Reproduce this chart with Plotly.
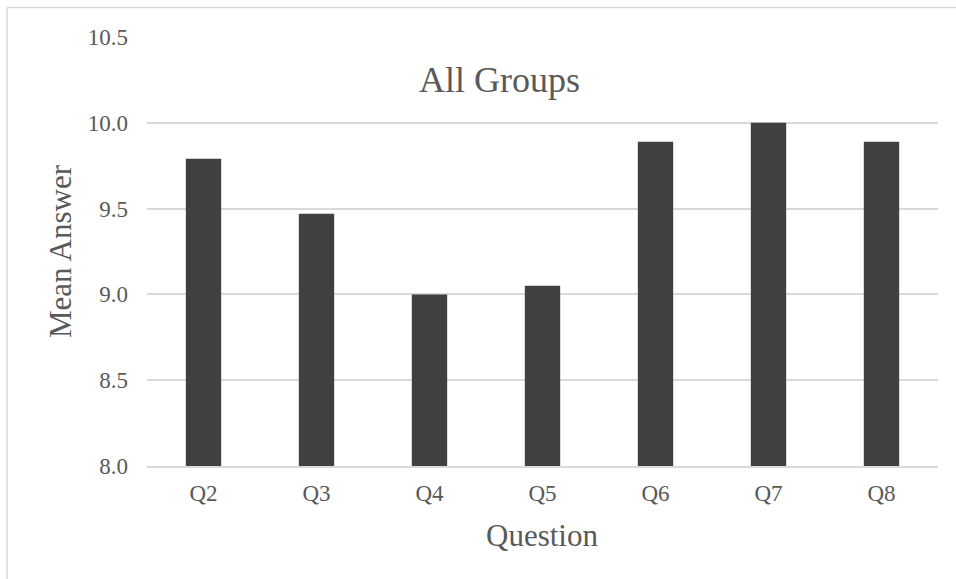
import plotly.graph_objects as go

# Mean answer per survey question, all groups combined
questions = ["Q2", "Q3", "Q4", "Q5", "Q6", "Q7", "Q8"]
mean_answer = [9.79, 9.47, 9.00, 9.05, 9.89, 10.00, 9.89]
y_ticks = [8.0, 8.5, 9.0, 9.5, 10.0, 10.5]

W, H = 956, 579
ML, MR, MT, MB = 147, 18, 37, 113
PW, PH = W - ML - MR, H - MT - MB

TEXT = "#595959"
GRID = "#d9d9d9"
FONT = "Liberation Serif"


def px_x(x):
    return (x - ML) / PW


def px_y(y):
    return (H - MB - y) / PH


fig = go.Figure(
    go.Bar(
        x=questions,
        y=mean_answer,
        marker=dict(color="#404040", line=dict(width=0)),
        hoverinfo="x+y",
    )
)

fig.update_layout(
    width=W,
    height=H,
    margin=dict(l=ML, r=MR, t=MT, b=MB, pad=0),
    paper_bgcolor="white",
    plot_bgcolor="white",
    bargap=0.687,
    showlegend=False,
    font=dict(family=FONT, color=TEXT),
    xaxis=dict(
        showgrid=False,
        zeroline=False,
        showline=True,
        linecolor=GRID,
        linewidth=1.5,
        ticks="",
        tickfont=dict(size=23, color=TEXT, family=FONT),
        ticklabelstandoff=6,
    ),
    yaxis=dict(
        range=[8.0, 10.5],
        tickvals=y_ticks,
        tickformat=".1f",
        showgrid=True,
        gridcolor=GRID,
        gridwidth=1.5,
        zeroline=False,
        showline=False,
        ticks="",
        tickfont=dict(size=23, color=TEXT, family=FONT),
        ticklabelstandoff=18,
    ),
    annotations=[
        dict(text="All Groups", x=px_x(499), y=px_y(80), xref="paper", yref="paper",
             xanchor="center", yanchor="middle", showarrow=False,
             font=dict(size=36, color=TEXT, family=FONT)),
        dict(text="Question", x=px_x(542), y=px_y(535), xref="paper", yref="paper",
             xanchor="center", yanchor="middle", showarrow=False,
             font=dict(size=31, color=TEXT, family=FONT)),
        dict(text="Mean Answer", x=px_x(60), y=px_y(251), xref="paper", yref="paper",
             xanchor="center", yanchor="middle", textangle=-90, showarrow=False,
             font=dict(size=31, color=TEXT, family=FONT)),
    ],
    shapes=[
        # chart frame (top and left edges)
        dict(type="line", xref="paper", yref="paper",
             x0=px_x(7), x1=px_x(W + 5), y0=px_y(7.5), y1=px_y(7.5),
             line=dict(color=GRID, width=1.5)),
        dict(type="line", xref="paper", yref="paper",
             x0=px_x(7), x1=px_x(7), y0=px_y(7.5), y1=px_y(H + 5),
             line=dict(color=GRID, width=1.5)),
    ],
)

fig.write_html("out.html")
